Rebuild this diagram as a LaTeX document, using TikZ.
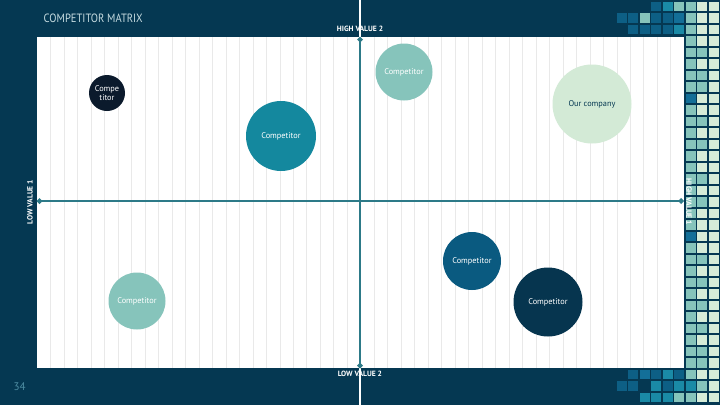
\documentclass[tikz,border=0pt]{standalone}
\usepackage{fontspec}
\setmainfont{PT Sans}
\newfontfamily\titlefont[FakeStretch=0.88]{PT Sans}
\usetikzlibrary{arrows.meta}

\definecolor{bgnavy}{HTML}{053852}
\definecolor{axisteal}{HTML}{2D7A88}
\definecolor{gridgray}{HTML}{E9E9E9}
\definecolor{titlegray}{HTML}{C5DBE0}
\definecolor{pagegray}{HTML}{4F8EA3}
\definecolor{tileblue}{HTML}{0D5F85}
\definecolor{tilemid}{HTML}{136F98}
\definecolor{tileteal}{HTML}{1A8AA6}
\definecolor{tilelight}{HTML}{86C4BB}
\definecolor{tilepale}{HTML}{D6ECD8}
\definecolor{bubdark}{HTML}{0B1A2C}
\definecolor{bubteal}{HTML}{14889E}
\definecolor{bublight}{HTML}{86C4BB}
\definecolor{bubpale}{HTML}{D3EAD6}
\definecolor{bubblue}{HTML}{0A5A80}
\definecolor{bubnavy}{HTML}{06354F}

\newcommand{\tilesq}[3]{\fill[#3] ({708.5-11.5*#1},{1.5+11.5*#2}) rectangle ++(10,9.5);}

\begin{document}
\begin{tikzpicture}[x=1pt,y=-1pt,
  bubble/.style={circle, inner sep=0pt, text=white, align=center,
    font=\fontsize{8.3}{9.5}\selectfont},
  axisline/.style={draw=axisteal, line width=2.4pt,
    {Circle[length=5pt]}-{Circle[length=5pt]}},
  axislabel/.style={text=white, inner sep=0pt, font=\bfseries\fontsize{7.6}{8}\selectfont}]
\useasboundingbox (0,0) rectangle (720,405);

% Draw background and panel
\fill[bgnavy] (0,0) rectangle (720,405);
\draw[white, line width=1.2pt] (360,0) -- (360,405);
\fill[white] (37,37) rectangle (683.5,368);
\foreach \i in {0,...,46}
  \draw[gridgray, line width=0.7pt] ({50.7+13.48*\i},37) -- ({50.7+13.48*\i},368);

% Draw tiles
\foreach \k/\j/\c in {5/0/tileblue, 4/0/tileteal, 3/0/tilelight, 2/0/tilelight, 1/0/tilepale, 0/0/tilepale,
    8/1/tileblue, 7/1/tileblue, 6/1/tilelight, 5/1/tileblue, 4/1/tileblue, 3/1/tilemid, 2/1/tilelight, 1/1/tilepale, 0/1/tilepale,
    7/2/tileblue, 6/2/tileblue, 5/2/tileblue, 4/2/tileblue, 3/2/tileteal, 2/2/tilelight, 1/2/tilepale, 0/2/tilepale}
  {\tilesq{\k}{\j}{\c}}
\foreach \j in {3,...,31} {
  \tilesq{2}{\j}{tilelight}
  \tilesq{1}{\j}{tilepale}
  \tilesq{0}{\j}{tilepale}
}
\foreach \j in {8,20} {\tilesq{2}{\j}{tilemid}}
\foreach \j in {4,6,7,10,12,15,17,22,24,26,28,30,31} {\tilesq{1}{\j}{tilelight}}
\foreach \k/\j/\c in {7/32/tileblue, 6/32/tilemid, 5/32/tileblue, 4/32/tileteal, 3/32/tileblue, 2/32/tilelight, 1/32/tilepale, 0/32/tilepale,
    8/33/tileblue, 7/33/tileblue, 5/33/tileteal, 4/33/tileblue, 3/33/tileteal, 2/33/tileteal, 1/33/tilelight, 0/33/tilepale,
    6/34/tileteal, 5/34/tileteal, 4/34/tileteal, 3/34/tilelight, 2/34/tilelight, 1/34/tilepale, 0/34/tilepale}
  {\tilesq{\k}{\j}{\c}}

% Draw axes
\coordinate (top) at (360,37);
\coordinate (bottom) at (360,368);
\coordinate (left) at (37,201);
\coordinate (right) at (683.5,201);
\draw[axisline] (top) -- (bottom);
\draw[axisline] (left) -- (right);

% Axis labels
\node[axislabel] (high2) at (360,29) {HIGH VALUE 2};
\node[axislabel] (low2) at (360,374) {LOW VALUE 2};
\node[axislabel, rotate=90] (low1) at (30,202) {LOW VALUE 1};
\node[axislabel, rotate=-90] (high1) at (689,202) {HIGH VALUE 1};

% Title and page number
\node[anchor=west, inner sep=0pt, text=titlegray, font=\titlefont\fontsize{12}{13}\selectfont] (title) at (43.5,18.5) {COMPETITOR MATRIX};
\node[inner sep=0pt, text=pagegray, font=\fontsize{11}{12}\selectfont] (page) at (19.5,387) {34};

% Draw competitors
\node[bubble, fill=bubdark, minimum size=36pt] (compa) at (107,93) {Compe\\titor};
\node[bubble, fill=bubteal, minimum size=70pt] (compb) at (281,136) {Competitor};
\node[bubble, fill=bublight, minimum size=57pt] (compc) at (404,72) {Competitor};
\node[bubble, fill=bubpale, minimum size=79pt, text=bgnavy] (ours) at (592,104) {Our company};
\node[bubble, fill=bubblue, minimum size=58pt] (compd) at (472,261) {Competitor};
\node[bubble, fill=bubnavy, minimum size=69pt] (compe) at (548,302) {Competitor};
\node[bubble, fill=bublight, minimum size=57pt] (compf) at (137,301) {Competitor};
\end{tikzpicture}
\end{document}
